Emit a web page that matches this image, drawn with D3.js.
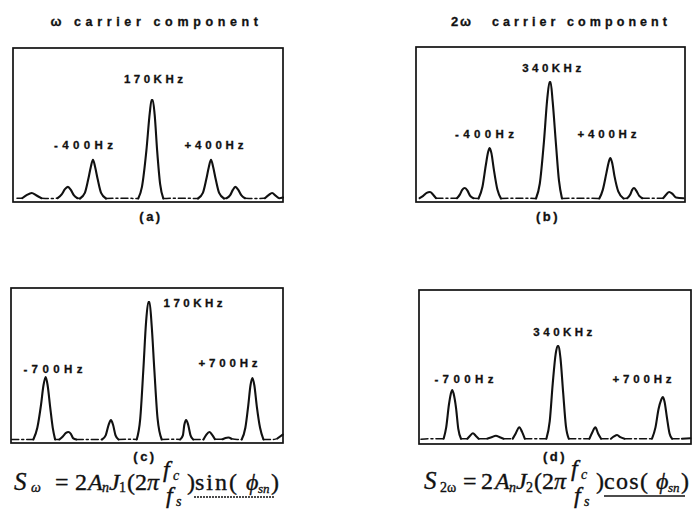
<!DOCTYPE html>
<html><head><meta charset="utf-8">
<script src="https://cdn.jsdelivr.net/npm/d3@7/dist/d3.min.js"></script>
<style>
html,body{margin:0;padding:0;background:#fff;}
svg{display:block;}
</style></head>
<body>
<svg id="chart" width="694" height="510"></svg>
<script>
// ---------------- DATA ----------------
const panelCaptions = ["(a)", "(b)", "(c)", "(d)"];
const columnTitles = ["carrier component", "carrier component"];
const columnSymbols = ["ω", "2ω"];
const carrierLabels = ["170KHz", "340KHz", "170KHz", "340KHz"];
const lowerSidebandLabels = ["-400Hz", "-400Hz", "-700Hz", "-700Hz"];
const upperSidebandLabels = ["+400Hz", "+400Hz", "+700Hz", "+700Hz"];

// frequency offset (Hz) extent of each panel
const freqDomainA = [-942, 888];
const freqDomainB = [-893, 900];
const freqDomainC = [-939, 911];
const freqDomainD = [-920, 880];

// label anchors [frequency offset, amplitude] : carrier, lower, upper
const labelAnchorsA = [[10, 76.8], [-464, 33.1], [420, 33.1]];
const labelAnchorsB = [[11, 83.7], [-437, 40.1], [380, 40.1]];
const labelAnchorsC = [[299, 87.7], [-654, 44.3], [537, 48.2]];
const labelAnchorsD = [[32, 69.5], [-623, 38.2], [556, 38.2]];

// traced spectra: [frequency offset (Hz), relative amplitude]
const spectrumA = [
  [-915,0.5],[-880,0.5],[-850,2.5],[-815,4],[-785,2.5],[-750,0.5],[-700,0.3],[-640,0.5],
  [-612,3],[-590,6.5],[-570,8],[-550,6],[-530,2.5],[-505,0.5],
  [-488,0.3],[-455,4],[-432,13],[-415,21],[-400,26],[-385,21],[-368,13],[-345,4],[-312,0.3],
  [-200,0.5],[-93,0.3],[-68,8],[-38,32],[-15,57],[-3,65.6],[5,65.6],[18,56],[35,32],[55,10],[77,0.3],
  [200,0.5],[312,0.3],[345,4],[368,13],[385,21],[400,26],[415,21],[432,13],[455,4],[488,0.3],
  [505,0.5],[530,2.5],[548,6],[565,8],[585,6],[605,2.5],[630,0.5],[700,0.3],[765,0.5],
  [790,2.5],[814,4],[840,2],[862,0.5],[888,1]
];
const spectrumB = [
  [-869,0.5],[-845,2],[-822,4],[-800,4.6],[-780,3],[-760,0.5],[-700,0.4],[-620,0.5],
  [-600,3],[-585,6],[-567,7.2],[-550,5.5],[-532,2],[-510,0.5],
  [-476,0.3],[-450,8],[-428,22],[-412,31],[-402,33.5],[-390,30],[-375,20],[-350,6],[-327,0.3],
  [-200,0.5],[-93,0.3],[-68,10],[-40,38],[-18,66],[-3,77],[4,77],[18,64],[40,36],[60,12],[80,0.3],
  [200,0.5],[329,0.3],[352,6],[376,17],[391,24],[402,27],[414,24],[430,15],[455,5],[491,0.3],
  [515,0.5],[535,3],[548,6],[560,7.2],[575,5.5],[595,2],[615,0.5],[700,0.4],[755,0.5],
  [775,3],[795,4.6],[815,3.5],[840,1],[891,0.5]
];
const spectrumC = [
  [-934,0.3],[-850,0.3],[-787,0.3],[-760,8],[-735,23],[-718,36],[-703,41.4],[-690,36],[-673,22],[-655,8],[-639,0.3],
  [-610,0.3],[-585,2.5],[-565,4.6],[-549,5.2],[-532,4],[-515,1],[-495,0.3],[-400,0.3],[-320,0.3],
  [-295,3],[-275,10],[-259,13.1],[-245,10],[-228,3],[-208,0.3],[-130,0.5],
  [-84,0.3],[-60,14],[-39,46],[-20,78],[-5,90.8],[3,90.8],[18,75],[36,46],[58,14],[86,0.3],
  [140,0.5],[212,0.3],[230,3],[240,10],[252,13.1],[266,10],[282,3],[300,0.3],
  [370,0.3],[390,3.5],[410,5.2],[428,3.5],[448,0.5],[500,0.5],[520,1.3],[539,1.6],[560,0.8],
  [600,0.3],[630,0.3],[655,8],[675,23],[690,36],[703,40.8],[716,36],[733,22],[755,8],[778,0.3],
  [840,0.3],[870,0.8],[909,3.5]
];
const spectrumD = [
  [-907,1.2],[-840,1.5],[-757,1.5],[-740,9],[-722,24],[-710,31],[-700,33.8],[-690,31],[-675,22],[-660,8],[-642,1.5],
  [-600,1.5],[-582,3.5],[-563,5.1],[-545,3.5],[-525,1.5],[-470,1.5],[-440,2.5],[-411,3.5],[-385,2.5],[-360,1.5],
  [-300,1.5],[-280,5],[-256,9.1],[-238,6],[-220,1.5],[-150,1.5],
  [-77,1.5],[-55,13],[-35,38],[-15,58],[-3,62.9],[4,62.9],[16,55],[34,32],[52,10],[71,1.5],
  [150,1.5],[208,1.5],[228,6],[247,9.1],[265,5],[285,1.5],[350,1.5],[370,3],[391,4],[412,2.5],[440,1.5],
  [560,1.5],[622,1.5],[645,9],[665,21],[682,27],[693,29.1],[705,26],[720,16],[738,5],[755,1.5],
  [820,1.5],[876,1.8]
];

// ---------------- LAYOUT ----------------
const panels = [
  {box:[13, 48, 283, 202],  dom:freqDomainA, spec:spectrumA, anchors:labelAnchorsA, caption:[151, 221]},
  {box:[416, 47, 685, 202], dom:freqDomainB, spec:spectrumB, anchors:labelAnchorsB, caption:[548, 221]},
  {box:[11, 288, 283, 443], dom:freqDomainC, spec:spectrumC, anchors:labelAnchorsC, caption:[145, 461]},
  {box:[419, 290, 691, 444],dom:freqDomainD, spec:spectrumD, anchors:labelAnchorsD, caption:[555, 461]}
];

const svg = d3.select("#chart");
const ink = "#111";
const sans = "'Liberation Sans', Arial, sans-serif";
const serif = "'Liberation Serif', 'Times New Roman', serif";

// column titles
const titleLayout = [{sym:[57, 26], text:[74, 26], len:184}, {sym:[462, 26], text:[492, 26], len:175}];
titleLayout.forEach((t, i) => {
  svg.append("text").attr("x", t.sym[0]).attr("y", t.sym[1])
    .attr("text-anchor", "middle").attr("font-family", sans).attr("font-weight", "bold")
    .attr("font-size", 13).attr("fill", ink).attr("stroke", ink).attr("stroke-width", 0.3)
    .attr("letter-spacing", 2).text(columnSymbols[i]);
  svg.append("text").attr("x", t.text[0]).attr("y", t.text[1])
    .attr("font-family", sans).attr("font-weight", "bold").attr("font-size", 12.5)
    .attr("fill", ink).attr("stroke", ink).attr("stroke-width", 0.3)
    .attr("textLength", t.len).attr("lengthAdjust", "spacing")
    .text(columnTitles[i]);
});

panels.forEach((p, i) => {
  const [x0, y0, x1, y1] = p.box;
  const x = d3.scaleLinear().domain(p.dom).range([x0, x1]);
  const y = d3.scaleLinear().domain([-2, 100]).range([y1, y0]);
  const g = svg.append("g");

  g.append("rect").attr("x", x0).attr("y", y0).attr("width", x1 - x0).attr("height", y1 - y0)
    .attr("fill", "none").attr("stroke", ink).attr("stroke-width", 1.7);

  // split into flat (dashed) and peak (solid) runs
  const base = d3.min(p.spec, d => d[1]);
  const low = d => d[1] <= base + 0.6;
  const runs = [];
  for (let k = 0; k < p.spec.length - 1; k++) {
    const a = p.spec[k], b = p.spec[k + 1];
    const flat = low(a) && low(b);
    const last = runs[runs.length - 1];
    if (last && last.flat === flat) last.pts.push(b);
    else runs.push({flat, pts:[a, b]});
  }
  const line = d3.line().x(d => x(d[0])).y(d => y(d[1])).curve(d3.curveMonotoneX);
  runs.forEach(r => {
    g.append("path").attr("d", line(r.pts)).attr("fill", "none").attr("stroke", ink)
      .attr("stroke-width", r.flat ? 1.5 : 2.1)
      .attr("stroke-linejoin", "round").attr("stroke-linecap", "round")
      .attr("stroke-dasharray", r.flat ? "7 3 2 3" : null);
  });

  const labels = [carrierLabels[i], lowerSidebandLabels[i], upperSidebandLabels[i]];
  labels.forEach((t, j) => {
    g.append("text").attr("x", x(p.anchors[j][0])).attr("y", y(p.anchors[j][1]))
      .attr("text-anchor", "middle").attr("font-family", sans).attr("font-weight", "bold")
      .attr("font-size", 11.5).attr("fill", ink).attr("stroke", ink).attr("stroke-width", 0.3)
      .attr("textLength", 59).attr("lengthAdjust", "spacing")
      .text(t);
  });

  g.append("text").attr("x", p.caption[0]).attr("y", p.caption[1]).attr("text-anchor", "middle")
    .attr("font-family", sans).attr("font-weight", "bold").attr("font-size", 13)
    .attr("fill", ink).attr("stroke", ink).attr("stroke-width", 0.3)
    .attr("letter-spacing", 2.5).text(panelCaptions[i]);
});

// formulas
function put(t, x, y, size, italic, len) {
  const el = svg.append("text").attr("x", x).attr("y", y).attr("font-family", serif)
    .attr("font-size", size).attr("font-style", italic ? "italic" : "normal")
    .attr("fill", ink).attr("stroke", ink).attr("stroke-width", 0.35).text(t);
  if (len) el.attr("textLength", len).attr("lengthAdjust", "spacing");
}
// (c)
put("S", 14, 490, 25, true); put("ω", 31, 492, 14, true);
put("=", 55, 490, 24, false); put("2", 75, 490, 24, false);
put("A", 88, 490, 24, true); put("n", 102, 492, 14, true);
put("J", 109, 490, 24, true); put("1", 119, 492, 14, false);
put("(2", 127, 490, 24, false); put("π", 147, 490, 24, true);
put("f", 163, 477, 24, true); put("c", 173, 480, 14, true);
put("f", 166, 503, 24, true); put("s", 176, 506, 14, true);
put(")", 187, 490, 24, false);
put("sin(", 195, 490, 24, false, 42);
put("ϕ", 246, 490, 24, true); put("sn", 258, 493, 13, true);
put(")", 271, 490, 24, false);
svg.append("line").attr("x1", 194).attr("x2", 275).attr("y1", 497).attr("y2", 497)
  .attr("stroke", ink).attr("stroke-width", 1.4).attr("stroke-dasharray", "2 1");
// (d)
put("S", 424, 489, 25, true); put("2ω", 440, 492, 14, false);
put("=", 463, 489, 24, false); put("2", 481, 489, 24, false);
put("A", 495, 489, 24, true); put("n", 509, 492, 14, true);
put("J", 516, 489, 24, true); put("2", 526, 492, 14, false);
put("(2", 534, 489, 24, false); put("π", 554, 489, 24, true);
put("f", 571, 476, 24, true); put("c", 581, 479, 14, true);
put("f", 574, 503, 24, true); put("s", 584, 506, 14, true);
put(")", 596, 489, 24, false);
put("cos(", 604, 489, 24, false, 44);
put("ϕ", 656, 489, 24, true); put("sn", 668, 492, 13, true);
put(")", 681, 489, 24, false);
svg.append("line").attr("x1", 604).attr("x2", 685).attr("y1", 496).attr("y2", 496)
  .attr("stroke", ink).attr("stroke-width", 1.5);
</script>
</body></html>
